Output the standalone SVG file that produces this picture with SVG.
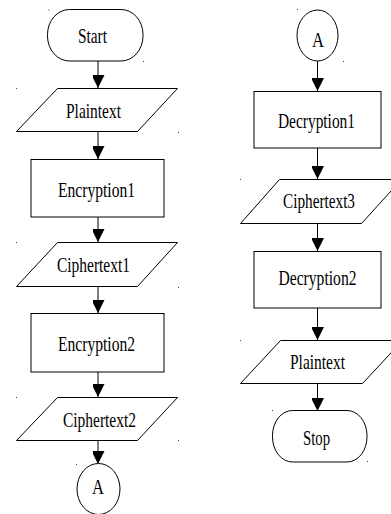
<svg xmlns="http://www.w3.org/2000/svg" width="391" height="514" viewBox="0 0 391 514">
<defs>
<style>
.s{fill:#fff;stroke:#000;stroke-width:1}
.t{font-family:"Liberation Serif","Times New Roman",serif;font-size:21px;fill:#000;text-anchor:middle}
.c{stroke:#000;stroke-width:1;fill:none}
.d{fill:#444}
</style>
<marker id="ah" markerWidth="13" markerHeight="12" refX="13" refY="6.5" orient="auto" markerUnits="userSpaceOnUse">
<path d="M0,0 L13,6.5 L0,13 Z" fill="#000"/>
</marker>
</defs>
<rect width="391" height="514" fill="#fff"/>
<g id="connectors">
<line class="c" x1="98" y1="61" x2="98" y2="88" marker-end="url(#ah)"/>
<line class="c" x1="98" y1="131" x2="98" y2="159" marker-end="url(#ah)"/>
<line class="c" x1="98" y1="217" x2="98" y2="242" marker-end="url(#ah)"/>
<line class="c" x1="98" y1="286" x2="98" y2="313" marker-end="url(#ah)"/>
<line class="c" x1="98" y1="372" x2="98" y2="397" marker-end="url(#ah)"/>
<line class="c" x1="98" y1="440" x2="98" y2="464" marker-end="url(#ah)"/>
<line class="c" x1="317.5" y1="61" x2="317.5" y2="91" marker-end="url(#ah)"/>
<line class="c" x1="317.5" y1="148" x2="317.5" y2="179" marker-end="url(#ah)"/>
<line class="c" x1="317.5" y1="223" x2="317.5" y2="251" marker-end="url(#ah)"/>
<line class="c" x1="317.5" y1="308" x2="317.5" y2="340" marker-end="url(#ah)"/>
<line class="c" x1="317.5" y1="383" x2="317.5" y2="411" marker-end="url(#ah)"/>
</g>
<g id="start">
<rect class="s" x="47.5" y="9.5" width="95.5" height="51.5" rx="22" ry="25"/>
<text class="t" x="92.5" y="42.5" textLength="29" lengthAdjust="spacingAndGlyphs">Start</text>
</g>
<g id="plaintext1">
<polygon class="s" points="57.5,88.5 177.5,88.5 137.5,131.5 16.5,131.5"/>
<text class="t" x="93.5" y="117.5" textLength="55" lengthAdjust="spacingAndGlyphs">Plaintext</text>
</g>
<g id="encryption1">
<rect class="s" x="31" y="159.5" width="133" height="57.5"/>
<text class="t" x="96.5" y="196.5" textLength="77" lengthAdjust="spacingAndGlyphs">Encryption1</text>
</g>
<g id="ciphertext1">
<polygon class="s" points="57.5,242.5 177.5,242.5 137.5,286.5 16.5,286.5"/>
<text class="t" x="93.5" y="271.5" textLength="73" lengthAdjust="spacingAndGlyphs">Ciphertext1</text>
</g>
<g id="encryption2">
<rect class="s" x="31" y="313.5" width="133" height="58.5"/>
<text class="t" x="96.5" y="350.5" textLength="77" lengthAdjust="spacingAndGlyphs">Encryption2</text>
</g>
<g id="ciphertext2">
<polygon class="s" points="57.5,397.5 177.5,397.5 137.5,440.5 16.5,440.5"/>
<text class="t" x="99.5" y="426.5" textLength="73" lengthAdjust="spacingAndGlyphs">Ciphertext2</text>
</g>
<g id="connectorA1">
<ellipse class="s" cx="98.5" cy="489" rx="21.5" ry="25.5"/>
<text class="t" x="98" y="493.5" textLength="12" lengthAdjust="spacingAndGlyphs">A</text>
</g>
<g id="connectorA2">
<ellipse class="s" cx="317.5" cy="35.5" rx="20.5" ry="25.5"/>
<text class="t" x="318" y="47" textLength="12" lengthAdjust="spacingAndGlyphs">A</text>
</g>
<g id="decryption1">
<rect class="s" x="254" y="91.5" width="127" height="56.5"/>
<text class="t" x="316.5" y="127.5" textLength="77" lengthAdjust="spacingAndGlyphs">Decryption1</text>
</g>
<g id="ciphertext3">
<polygon class="s" points="279.5,179.5 401.5,179.5 361.5,223.5 240.5,223.5"/>
<text class="t" x="319" y="207.5" textLength="72" lengthAdjust="spacingAndGlyphs">Ciphertext3</text>
</g>
<g id="decryption2">
<rect class="s" x="254" y="251.5" width="127" height="56.5"/>
<text class="t" x="317.5" y="284.5" textLength="78" lengthAdjust="spacingAndGlyphs">Decryption2</text>
</g>
<g id="plaintext2">
<polygon class="s" points="280.5,340.5 402.5,340.5 362.5,383.5 240.5,383.5"/>
<text class="t" x="317.5" y="368.5" textLength="55" lengthAdjust="spacingAndGlyphs">Plaintext</text>
</g>
<g id="stop">
<rect class="s" x="272.5" y="410.5" width="94.5" height="51.5" rx="20" ry="25"/>
<text class="t" x="316.5" y="444.5" textLength="27" lengthAdjust="spacingAndGlyphs">Stop</text>
</g>
<g id="marks">
<rect class="d" x="48.5" y="9.5" width="1" height="1"/>
<rect class="d" x="143" y="61" width="1" height="1"/>
<rect class="d" x="16" y="88" width="1" height="1"/>
<rect class="d" x="178" y="132" width="1" height="1"/>
<rect class="d" x="16" y="242" width="1" height="1"/>
<rect class="d" x="178" y="287" width="1" height="1"/>
<rect class="d" x="16" y="397" width="1" height="1"/>
<rect class="d" x="178" y="440" width="1" height="1"/>
<rect class="d" x="76" y="464" width="1" height="1"/>
<rect class="d" x="297" y="9" width="1" height="1"/>
<rect class="d" x="343" y="61" width="1" height="1"/>
<rect class="d" x="240" y="179" width="1" height="1"/>
<rect class="d" x="240" y="340" width="1" height="1"/>
<rect class="d" x="272" y="410" width="1" height="1"/>
<rect class="d" x="367" y="461" width="1" height="1"/>
</g>
</svg>
